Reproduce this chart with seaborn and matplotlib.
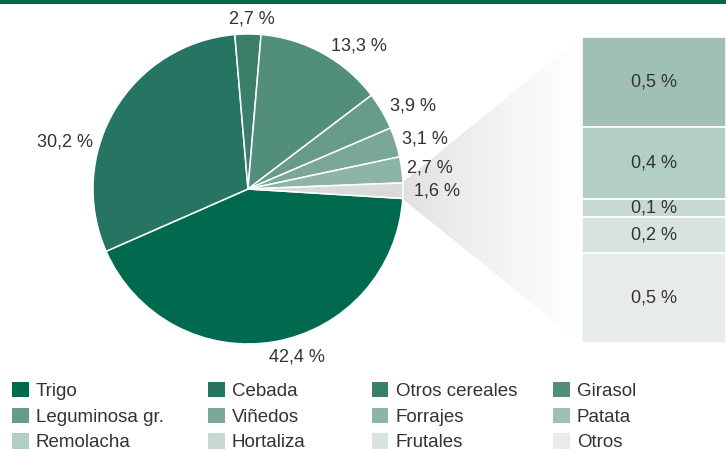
import numpy as np
import matplotlib
matplotlib.use("Agg")
import matplotlib.pyplot as plt
from matplotlib.patches import Patch, Rectangle
from matplotlib.colors import to_rgb
import seaborn as sns

# Main crops shown in the pie, last slice is the grouped remainder
pie_names = ["Trigo", "Cebada", "Otros cereales", "Girasol",
             "Leguminosa gr.", "Viñedos", "Forrajes", "Resto"]
pie_values = [42.4, 30.2, 2.7, 13.3, 3.9, 3.1, 2.7, 1.6]
pie_text = ["42,4 %", "30,2 %", "2,7 %", "13,3 %", "3,9 %", "3,1 %", "2,7 %", "1,6 %"]

# Breakdown of the remainder, top to bottom
bar_names = ["Patata", "Remolacha", "Hortaliza", "Frutales", "Otros"]
bar_values = [0.5, 0.4, 0.1, 0.2, 0.5]
bar_text = ["0,5 %", "0,4 %", "0,1 %", "0,2 %", "0,5 %"]

# Colours per crop
crop_colors = {
    "Trigo": "#006a4e",
    "Cebada": "#267562",
    "Otros cereales": "#3b7f6a",
    "Girasol": "#518e7b",
    "Leguminosa gr.": "#679b8b",
    "Viñedos": "#7aa798",
    "Forrajes": "#8cb4a7",
    "Patata": "#a0c0b5",
    "Remolacha": "#b3cec5",
    "Hortaliza": "#c6dad3",
    "Frutales": "#d7e3de",
    "Otros": "#e7ebe9",
    "Resto": "#dadada",
}
legend_names = ["Trigo", "Cebada", "Otros cereales", "Girasol",
                "Leguminosa gr.", "Viñedos", "Forrajes", "Patata",
                "Remolacha", "Hortaliza", "Frutales", "Otros"]

sns.set_theme(style="white")
plt.rcParams["font.family"] = ["Liberation Sans", "DejaVu Sans"]
TXT = "#333333"
FS = 13

W, H = 726, 451
fig = plt.figure(figsize=(W / 100, H / 100), dpi=100)
fig.patch.set_facecolor("white")

# Canvas axes in pixel units (y up)
ax = fig.add_axes([0, 0, 1, 1])
pie_center = (248, H - 189)
pie_radius = 155
wedges, _ = ax.pie(
    pie_values,
    colors=[crop_colors[n] for n in pie_names],
    startangle=-3.5,
    counterclock=False,
    center=pie_center,
    radius=pie_radius,
    wedgeprops=dict(edgecolor="white", linewidth=1.1),
)
ax.set_xlim(0, W)
ax.set_ylim(0, H)
ax.set_aspect("auto")
ax.axis("off")

# Percentage labels around the pie (pixel anchors, y measured from top)
label_pos = [(297, 357), (65, 142), (252, 19), (359, 46),
             (413, 106), (425, 139), (430, 168), (437, 191)]
for (x, y), t in zip(label_pos, pie_text):
    ax.text(x, H - y, t, ha="center", va="center", fontsize=FS, color=TXT)

# Stacked bar with the breakdown of the remainder
bax = fig.add_axes([582 / W, (H - 343) / H, 144 / W, 306 / H])
total = sum(bar_values)
bottom = 0.0
for name, v, t in zip(bar_names, bar_values, bar_text):
    bax.bar(0, v, bottom=bottom, width=1.0, color=crop_colors[name],
            edgecolor="white", linewidth=1.2)
    bax.text(0, bottom + v / 2, t, ha="center", va="center",
             fontsize=FS, color=TXT)
    bottom += v
bax.set_xlim(-0.5, 0.5)
bax.set_ylim(total, 0)
bax.axis("off")

# Connector between the remainder slice and the bar
rest = wedges[-1]
cx, cy = rest.center
r = rest.r
ends = []
for th in (rest.theta1, rest.theta2):
    t = np.radians(th)
    ends.append((cx + r * np.cos(t), cy + r * np.sin(t)))
p_top, p_bot = sorted(ends, key=lambda p: -p[1])
to_canvas = bax.transData + ax.transData.inverted()
b_top = to_canvas.transform((-0.5, 0))
b_bot = to_canvas.transform((-0.5, total))

# Horizontal fade drawn as thin vertical strips: grey at the pie, white at the bar
c0 = np.array(to_rgb("#dfdfdf"))
c1 = np.array(to_rgb("#ffffff"))
n = 180
fr = np.linspace(0, 1, n + 1)
for i in range(n):
    f0, f1 = fr[i], fr[i + 1]
    xa = p_top[0] + (b_top[0] - p_top[0]) * f0
    xb = p_top[0] + (b_top[0] - p_top[0]) * f1
    ta = p_top[1] + (b_top[1] - p_top[1]) * f0
    tb = p_top[1] + (b_top[1] - p_top[1]) * f1
    ba = p_bot[1] + (b_bot[1] - p_bot[1]) * f0
    bb = p_bot[1] + (b_bot[1] - p_bot[1]) * f1
    s = ((f0 + f1) / 2) ** 0.8
    col = c0 * (1 - s) + c1 * s
    ax.fill([xa, xb, xb, xa], [ta, tb, bb, ba], color=col,
            linewidth=0.6, edgecolor=col, zorder=0.5)
ax.set_xlim(0, W)
ax.set_ylim(0, H)

# Top rule
ax.add_patch(Rectangle((0, H - 4), W, 4, facecolor="#006a4e",
                       edgecolor="none", zorder=5))

# Legend: four columns, filled row by row
col_x = [12, 208, 372, 553]
for j, x in enumerate(col_x):
    names = legend_names[j::4]
    handles = [Patch(facecolor=crop_colors[n], edgecolor="none") for n in names]
    fig.legend(handles, names, loc="upper left",
               bbox_to_anchor=(x / W, 1 - 382 / H),
               bbox_transform=fig.transFigure,
               frameon=False, borderpad=0, borderaxespad=0,
               handlelength=0.88, handleheight=0.88, handletextpad=0.38,
               labelspacing=0.40, fontsize=13.5, labelcolor=TXT)

fig.savefig("out.png", dpi=100, facecolor="white")
